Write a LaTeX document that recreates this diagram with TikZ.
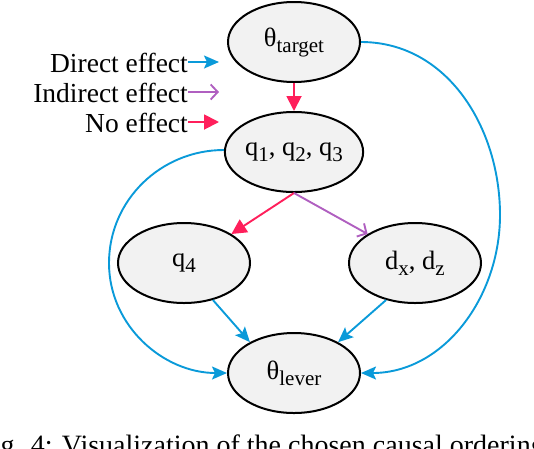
\documentclass[tikz,border=0pt]{standalone}
\usepackage{fontspec}
\setmainfont{Liberation Serif}
\usetikzlibrary{arrows.meta,shapes.geometric}
\definecolor{dblue}{HTML}{0A9AD9}
\definecolor{npink}{HTML}{FF1F5B}
\definecolor{ipurple}{HTML}{B05FC0}
\definecolor{nfill}{HTML}{F2F2F2}
\newcommand{\mysub}[1]{\raisebox{-6pt}{\fontsize{21}{24}\selectfont #1}}
\tikzset{
  var/.style={ellipse,draw=black,line width=2pt,fill=nfill,minimum width=132pt,minimum height=80pt,inner sep=0pt,font=\fontsize{26.5}{30}\selectfont},
  direct/.style={draw=dblue,line width=1.9pt,-{Stealth[length=15pt,width=13pt,inset=3pt]}},
  noeff/.style={draw=npink,line width=1.9pt,-{Triangle[length=15pt,width=15pt]}},
  indir/.style={draw=ipurple,line width=1.9pt,-{Straight Barb[length=7pt,width=15pt,line width=1.9pt]}},
  legtext/.style={anchor=base east,inner sep=0pt,font=\fontsize{27.5}{30}\selectfont},
}
\begin{document}
\begin{tikzpicture}[x=1pt,y=-1pt]
\useasboundingbox (0,0) rectangle (534,448);
\clip (0,0) rectangle (534,448);
\node[var] (tgt) at (294,42) {θ\mysub{target}};
\node[var] (q123) at (294,152) {q\mysub{1}, q\mysub{2}, q\mysub{3}};
\node[var] (q4) at (184,263) {q\mysub{4}};
\node[var] (dxz) at (415,263) {d\mysub{x}, d\mysub{z}};
\node[var] (lev) at (294,373) {θ\mysub{lever}};
% legend
\node[legtext] (l1) at (188,72) {Direct effect};
\node[legtext] (l2) at (188,102) {Indirect effect};
\node[legtext] (l3) at (188,132) {No effect};
\coordinate (a1s) at (188,62); \coordinate (a1e) at (219,62);
\coordinate (a2s) at (188,92); \coordinate (a2e) at (219,92);
\coordinate (a3s) at (188,122); \coordinate (a3e) at (219,122);
\draw[direct] (a1s) -- (a1e);
\draw[indir] (a2s) -- (a2e);
\draw[noeff] (a3s) -- (a3e);
% edges
\draw[noeff] (tgt) -- (q123);
\draw[noeff] (q123.south) -- (q4.north east);
\draw[indir] (q123.south) -- (dxz.north west);
\draw[direct] (q4.-52) -- (lev.145);
\draw[direct] (dxz.-128) -- (lev.35);
\coordinate (lw) at (109,263);
\coordinate (rw) at (500,215);
\draw[direct] ([yshift=2pt]q123.west) to[out=180,in=90] (lw) to[out=-90,in=180] (lev.west);
\draw[direct] (tgt.east) to[out=0,in=90] (rw) to[out=-90,in=0] (lev.east);
% caption
\node[anchor=base west,inner sep=0pt,font=\fontsize{28}{30}\selectfont] (cap) at (-23,454) {Fig. 4: Visualization of the chosen causal ordering};
\end{tikzpicture}
\end{document}
